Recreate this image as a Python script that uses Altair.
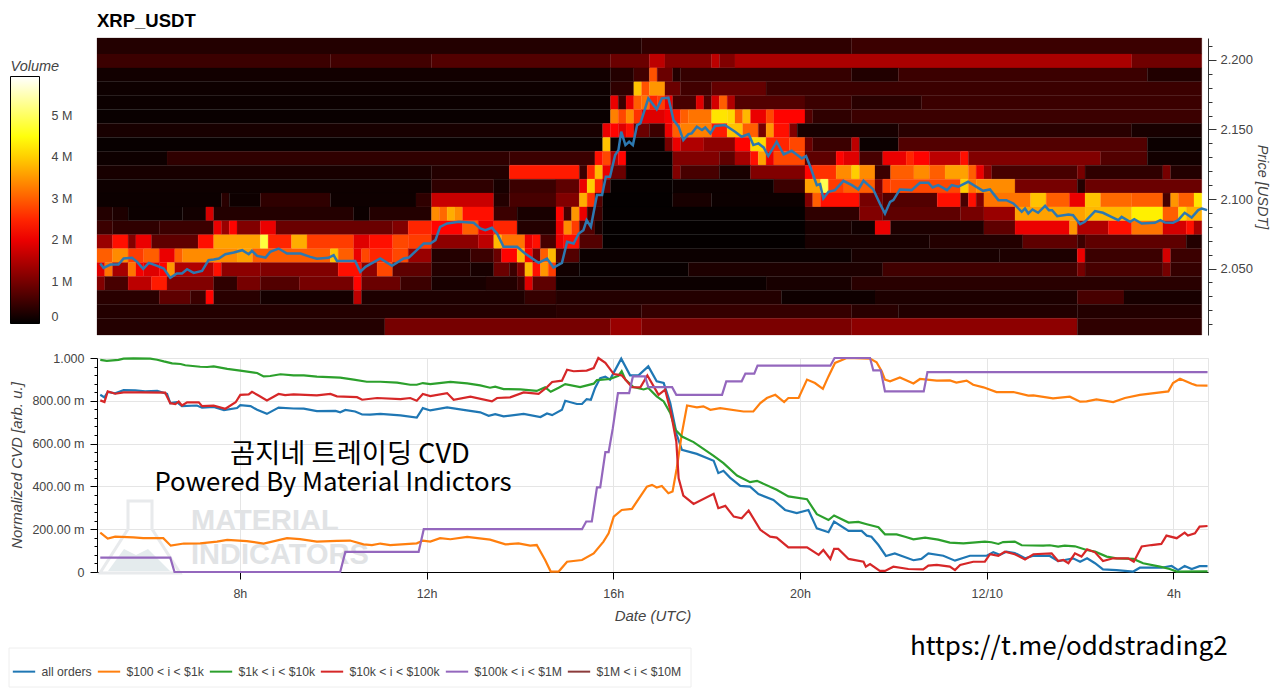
import altair as alt
import pandas as pd

FONT = 'Liberation Sans'
KO_FONT = 'Noto Sans CJK KR'
TXT = '#444444'

# heatmap: one list per price row, top to bottom, (start column, volume in M) runs
# columns are 10 min wide
first_hour = 4.94
price_edges = [2.2158, 2.2043, 2.1943, 2.1843, 2.1743, 2.1643, 2.1543, 2.1443, 2.1343, 2.1243, 2.1143,
               2.1043, 2.0943, 2.0843, 2.0743, 2.0643, 2.0543, 2.0443, 2.0343, 2.0243, 2.0143, 2.0022]
n_cols = 142
row_00 = [(0,.3),(70,.4),(97,.5)]
row_01 = [(0,.5),(30,.55),(43,.7),(66,.9),(71,1.6),(73,1.1),(79,1.6),(80,1.1),(82,1.45),(133,.95)]
row_02 = [(0,.15),(66,.3),(69,.55),(71,2.9),(72,.9),(74,.3),(75,.45),(97,.28),(103,.5),(135,.28)]
row_03 = [(0,.12),(66,.4),(69,3.9),(70,2.9),(71,3.5),(73,.9),(75,.55),(79,.85),(86,.5)]
row_04 = [(0,.1),(66,2),(67,.5),(68,2),(69,3),(70,3.2),(71,2.5),(72,2.7),(73,2),(74,.6),(77,1.9),(78,.7),(79,1.8),(80,3),(81,1.5),(82,.7),(91,.5),(97,.35),(106,.5)]
row_05 = [(0,.08),(66,3.3),(67,2.8),(68,3.4),(69,2.6),(70,1.9),(73,2.1),(74,2.4),(75,3),(76,3.2),(79,4.2),(81,4.1),(82,3),(83,3.8),(84,2),(86,2.8),(87,2.2),(91,.7),(92,.4),(97,.5)]
row_06 = [(0,.2),(65,2),(66,2.2),(67,1.9),(68,2.3),(69,.9),(71,.5),(73,2),(74,3),(75,3.3),(79,2.4),(81,3.9),(83,3),(85,1),(86,3.5),(87,2.3),(89,1.1),(90,.2),(103,.35),(133,.2)]
row_07 = [(0,.07),(65,3.9),(66,.08),(73,1),(74,2),(75,1.5),(78,1.2),(82,2.2),(84,4.1),(86,2.5),(89,2.8),(91,.9),(92,.5),(97,1.6),(98,.1),(103,.7),(135,.1)]
row_08 = [(0,.12),(9,.4),(53,.5),(64,2.3),(65,2.8),(66,1.5),(67,2.2),(68,.07),(74,1.1),(80,.8),(82,1.4),(84,2.3),(85,3.6),(86,2),(87,2.8),(91,.8),(95,2.2),(96,1.9),(98,.6),(101,2),(104,2.5),(105,2.2),(107,1.6),(111,2.3),(112,1.1),(129,.7),(135,.15)]
row_09 = [(0,.2),(43,.3),(53,2.4),(62,.5),(63,2.5),(64,3.8),(65,2),(66,.9),(68,.05),(74,1.1),(75,.6),(80,.2),(84,1.1),(91,2.2),(92,2.6),(95,3.4),(97,4),(98,3.4),(100,.5),(102,3),(105,3.4),(107,3),(109,3.6),(112,3),(113,2),(114,1.2),(115,.6),(126,1),(127,.4),(137,1),(138,.3)]
row_10 = [(0,.12),(43,.4),(51,.2),(53,.5),(59,.8),(62,2),(63,4),(64,2.5),(65,.8),(66,.05),(74,.1),(87,.5),(91,3.6),(93,4.9),(94,2.7),(96,3),(100,1),(101,2.7),(102,2.8),(111,4),(112,3.2),(113,3.4),(118,1),(126,.3),(127,.9)]
row_11 = [(0,.1),(16,.35),(17,.12),(21,.4),(30,.12),(41,.4),(43,1.7),(51,.3),(53,.6),(59,1.1),(62,3.7),(63,2.6),(64,.7),(65,.03),(74,.2),(79,.1),(91,1.1),(92,3),(93,2.3),(98,1),(101,.7),(108,2.3),(111,.6),(112,2.3),(113,1.1),(114,3.2),(120,3.9),(122,3),(125,2),(127,3.9),(129,3.1),(133,3),(137,.6),(138,3.5),(139,3),(141,4.2)]
row_12 = [(0,.3),(2,.25),(4,.1),(11,.15),(14,1.8),(15,.3),(33,.1),(35,.3),(43,3.4),(44,3.1),(45,3.7),(46,3.4),(47,2.3),(51,.5),(54,.2),(59,2.2),(60,.6),(61,3.5),(62,2),(63,.5),(65,.04),(91,.4),(98,1.1),(101,.8),(111,1),(114,1.3),(118,3.6),(127,3.8),(133,4.3),(137,3),(139,4.1),(140,3.7)]
row_13 = [(0,.5),(2,.4),(8,.5),(15,2),(16,1.3),(17,2.2),(18,1.1),(21,2),(23,.9),(38,1.1),(40,2.5),(43,2.2),(47,3),(49,2),(51,2.5),(54,.3),(59,2),(60,3.4),(61,2.7),(62,.7),(64,.2),(65,.03),(91,.2),(97,.15),(100,2),(102,.25),(114,.8),(118,2),(125,3.5),(126,1.5),(130,2.3),(133,3.2),(137,1.8),(140,2.3),(141,1.4)]
row_14 = [(0,1.3),(2,2.3),(4,1.1),(5,2),(7,.8),(13,2.3),(15,3.6),(21,4.8),(22,2.5),(25,3.7),(27,2.7),(33,1.9),(35,2.3),(38,2.8),(40,2.7),(43,1.2),(49,1.6),(51,3.8),(52,3.2),(55,2),(56,2.3),(57,.6),(59,2),(60,2.3),(62,.7),(65,.03),(91,.2),(107,.3),(119,.8),(126,.5),(127,.8),(140,.3)]
row_15 = [(0,3),(2,3.4),(4,2.7),(6,3),(8,2),(10,3),(11,3.4),(18,3.6),(20,3),(30,3.9),(31,3),(33,2),(34,2.8),(35,2.5),(38,2.8),(40,1.3),(43,.3),(48,.5),(51,.9),(52,2.2),(54,3.8),(55,2.2),(56,1),(57,3),(58,3.8),(59,.7),(62,.1),(97,.2),(116,.25),(126,2),(127,.5),(137,1.8),(138,.5)]
row_16 = [(0,1.9),(1,3.2),(2,1.4),(4,3.2),(5,2.1),(6,1.9),(8,2.2),(9,3.5),(10,1.5),(15,2.3),(16,1.2),(21,1.1),(31,2.3),(34,1.2),(36,2.8),(38,.8),(43,.3),(48,.2),(51,.9),(53,.5),(54,1.1),(55,3.8),(56,2.3),(57,3.5),(58,2.7),(59,.15),(62,.08),(76,.25),(101,.55),(126,1),(127,.6),(137,1),(138,.45)]
row_17 = [(0,1.1),(1,.6),(4,1.6),(7,2.4),(9,1.1),(15,.4),(18,1),(21,.7),(26,1),(33,2.2),(34,.9),(39,.5),(43,.2),(50,.3),(54,.5),(55,1.9),(56,.8),(59,.1),(86,.2),(97,.35)]
row_18 = [(0,.35),(8,.8),(12,.5),(14,2.2),(15,.35),(21,.18),(33,1.6),(34,.25),(55,.45),(59,.3),(88,.12),(100,.25),(126,.6),(132,.2)]
row_19 = [(0,.3),(59,.35),(70,.45),(97,.35),(103,.28),(126,.3)]
row_20 = [(0,.3),(37,1),(66,1.3),(70,1.05),(97,1.2),(126,.4)]
volume_rows = [row_00, row_01, row_02, row_03, row_04, row_05, row_06, row_07, row_08, row_09, row_10,
               row_11, row_12, row_13, row_14, row_15, row_16, row_17, row_18, row_19, row_20]

# price line (hour, USDT)
price = [(5.01,2.0536),(5.08,2.0505),(5.23,2.0529),(5.40,2.0529),(5.51,2.0572),(5.69,2.0577),(5.80,2.0548),(5.93,2.0498),(6.05,2.0541),(6.23,2.0519),(6.37,2.0500),(6.51,2.0433),(6.65,2.0464),(6.76,2.0464),(6.87,2.0495),(7.01,2.0469),(7.19,2.0483),(7.33,2.0560),(7.44,2.0565),(7.55,2.0572),(7.69,2.0603),(7.87,2.0615),(8.05,2.0632),(8.19,2.0603),(8.26,2.0627),(8.37,2.0591),(8.55,2.0579),(8.65,2.0620),(8.83,2.0644),(9.01,2.0608),(9.30,2.0608),(9.51,2.0584),(9.65,2.0570),(9.90,2.0577),(10.01,2.0596),(10.08,2.0555),(10.47,2.0555),(10.58,2.0476),(10.69,2.0512),(11.01,2.0572),(11.26,2.0519),(11.51,2.0572),(11.62,2.0579),(11.79,2.0632),(11.94,2.0680),(12.08,2.0680),
         (12.19,2.0704),(12.29,2.080),(12.44,2.0824),(12.69,2.0836),(13.01,2.0829),(13.15,2.0788),(13.26,2.0776),(13.40,2.0793),(13.51,2.0752),(13.65,2.0656),(13.94,2.0656),(14.11,2.0608),(14.40,2.0541),(14.58,2.0572),(14.72,2.0507),(14.90,2.0541),(15.01,2.0692),(15.15,2.068),(15.26,2.0752),(15.36,2.0776),(15.43,2.0848),(15.52,2.08),(15.65,2.1028),(15.76,2.1028),(15.84,2.116),(15.93,2.116),(16.04,2.1316),(16.11,2.1352),(16.17,2.1484),(16.26,2.1388),(16.34,2.1412),(16.42,2.1388),(16.51,2.1532),(16.58,2.1544),(16.75,2.1724),(16.93,2.1645),(17.04,2.1724),(17.18,2.1729),(17.29,2.1568),(17.40,2.152),(17.50,2.1424),(17.61,2.1467),(17.68,2.1472),(17.79,2.152),(17.90,2.1496),(17.97,2.1515),(18.08,2.1472),(18.18,2.1525),(18.39,2.1532),(18.61,2.1484),(18.75,2.1448),(18.90,2.1467),(19.00,2.1388),(19.11,2.14),(19.22,2.1371),(19.32,2.1309),(19.50,2.1412),(19.65,2.1321),(19.82,2.1347),(20.04,2.1292),(20.13,2.1309),(20.22,2.1232),(20.36,2.11),(20.43,2.1107),(20.50,2.1004),(20.61,2.1052),(20.75,2.1064),(20.93,2.1131),(21.11,2.11),
         (21.25,2.1069),(21.36,2.1131),(21.57,2.1069),(21.71,2.0968),(21.82,2.0896),(21.93,2.098),(22.0,2.0992),(22.14,2.1069),(22.39,2.1064),(22.57,2.1117),(22.75,2.1117),(22.84,2.1083),(22.96,2.11),(23.15,2.1064),(23.25,2.11),(23.39,2.1088),(23.60,2.1124),(23.92,2.1059),(24.07,2.1069),(24.25,2.0992),(24.42,2.0992),(24.57,2.0968),(24.75,2.0908),(24.82,2.0932),(24.89,2.0896),(24.98,2.0925),(25.10,2.0901),(25.25,2.0951),(25.33,2.092),(25.40,2.092),(25.51,2.0877),(25.75,2.0889),(25.85,2.0884),(26.0,2.0819),(26.10,2.0836),(26.32,2.0913),(26.49,2.0901),(26.67,2.0872),(26.82,2.0848),(26.89,2.0872),(27.07,2.0836),(27.16,2.0855),(27.32,2.0824),(27.60,2.0829),(27.72,2.0848),(27.82,2.0831),(27.99,2.0829),(28.10,2.0848),(28.24,2.0901),(28.39,2.0867),(28.53,2.092),(28.61,2.0932),(28.72,2.092)]

# normalized CVD lines (hour, value)
all_orders = [(5.01,.828),(5.10,.816),(5.17,.841),(5.33,.835),(5.51,.850),(5.76,.849),(5.97,.844),(6.23,.847),(6.44,.832),(6.51,.789),(6.65,.794),(6.76,.775),(7.08,.778),(7.19,.768),(7.44,.771),(7.66,.757),(7.94,.766),(8.01,.780),(8.23,.775),(8.37,.758),(8.58,.739),(8.83,.768),(9.15,.764),(9.37,.763),(9.65,.752),(10.05,.753),(10.15,.746),(10.26,.757),(10.47,.750),(10.62,.736),(10.79,.735),(11.01,.739),(11.44,.732),(11.79,.722),(11.92,.766),(12.08,.755),
              (12.44,.769),(12.79,.758),(13.15,.746),(13.33,.730),(13.47,.738),(13.65,.727),(14.08,.739),(14.44,.724),(14.58,.741),(14.69,.733),(14.90,.758),(14.97,.800),(15.22,.785),(15.33,.785),(15.43,.808),(15.52,.805),(15.61,.860),(15.72,.906),(15.83,.913),(15.93,.899),(16.17,.997),(16.36,.919),(16.54,.919),(16.75,.961),(16.93,.891),(17.08,.883),(17.22,.789),(17.36,.641),(17.47,.571),(17.79,.552),(18.15,.520),(18.25,.462),(18.36,.473),(18.50,.441),(18.72,.402),(18.93,.399),(19.11,.364),(19.43,.337),(19.68,.290),(19.93,.275),(20.18,.290),(20.36,.204),(20.61,.186),(20.73,.236),(21.04,.192),
              (21.32,.192),(21.43,.170),(21.53,.165),(21.68,.126),(21.84,.075),(22.03,.087),(22.43,.055),(22.60,.061),(22.75,.087),(23.07,.076),(23.32,.053),(23.64,.076),(24.0,.076),(24.14,.092),(24.28,.080),(24.42,.095),(24.60,.089),(24.82,.064),(25.0,.076),(25.35,.075),(25.53,.051),(25.67,.056),(25.85,.064),(26.0,.048),(26.15,.064),(26.32,.041),(26.49,.012),(26.78,.009),(27.14,.002),(27.28,.020),(27.74,.020),(27.96,.028),(28.10,.009),(28.24,.028),(28.39,.014),(28.56,.027),(28.73,.027)]
orders_100_1k = [(5.01,.184),(5.17,.156),(5.33,.165),(5.72,.162),(5.93,.158),(6.36,.158),(6.52,.123),(6.80,.133),(7.15,.134),(7.51,.142),(7.73,.150),(8.15,.144),(8.51,.133),(9.01,.158),(9.29,.154),(9.65,.142),(10.08,.145),(10.36,.147),(10.65,.129),(10.83,.126),(11.01,.133),(11.22,.126),(11.79,.134),(11.92,.147),(12.08,.142),
                 (12.29,.158),(12.51,.153),(12.87,.164),(13.36,.151),(13.69,.129),(13.97,.134),(14.22,.123),(14.36,.126),(14.54,.056),(14.66,.002),(14.83,.002),(15.01,.048),(15.33,.056),(15.58,.087),(15.79,.142),(15.90,.181),(16.01,.259),(16.18,.290),(16.40,.295),(16.72,.399),(16.83,.407),(16.93,.395),(17.04,.402),(17.18,.368),(17.27,.376),(17.36,.485),(17.47,.649),(17.58,.778),(17.79,.769),(17.93,.774),(18.08,.758),(18.29,.766),(18.79,.750),(19.0,.750),(19.15,.789),(19.29,.813),(19.47,.828),(19.66,.794),(19.75,.813),(19.97,.813),(20.15,.899),(20.32,.883),(20.49,.856),(20.61,.914),(20.75,.977),(21.0,1.0),
                 (21.50,.997),(21.64,.980),(21.75,.938),(21.82,.899),(21.93,.891),(22.14,.909),(22.43,.881),(22.57,.902),(22.93,.894),(23.21,.895),(23.35,.885),(23.57,.894),(23.71,.875),(23.93,.863),(24.21,.841),(24.57,.841),(24.89,.824),(25.0,.825),(25.42,.811),(25.78,.819),(26.0,.796),(26.14,.797),(26.35,.807),(26.71,.794),(26.96,.813),(27.28,.828),(27.89,.844),(27.99,.883),(28.14,.903),(28.39,.880),(28.49,.872),(28.73,.871)]
orders_1k_10k = [(5.01,.991),(5.15,.987),(5.40,.991),(5.51,.997),(5.72,.998),(6.08,.997),(6.23,.992),(6.37,.984),(6.55,.975),(6.73,.972),(6.83,.966),(7.15,.959),(7.30,.958),(7.44,.961),(7.73,.949),(8.01,.941),(8.37,.930),(8.51,.914),(8.65,.916),(8.87,.924),(9.15,.919),(9.37,.919),(9.65,.913),(10.15,.908),(10.44,.899),(10.72,.889),(11.01,.889),(11.37,.885),(11.65,.875),(11.79,.875),(11.92,.883),(12.08,.878),
                 (12.51,.888),(12.87,.881),(13.15,.872),(13.36,.861),(13.47,.866),(13.65,.855),(14.01,.853),(14.36,.846),(14.54,.863),(14.66,.842),(14.83,.861),(14.97,.878),(15.29,.864),(15.58,.880),(15.65,.897),(15.93,.902),(16.11,.917),(16.18,.938),(16.26,.899),(16.43,.864),(16.65,.853),(16.75,.860),(16.93,.821),(17.08,.797),(17.22,.743),(17.33,.665),(17.47,.633),(17.72,.607),(18.15,.543),(18.36,.509),(18.65,.451),(18.93,.420),(19.08,.426),(19.50,.384),(19.75,.353),(20.15,.340),(20.36,.270),(20.61,.243),(20.73,.264),(21.04,.231),
                 (21.25,.234),(21.43,.223),(21.68,.209),(21.82,.176),(22.07,.176),(22.25,.165),(22.43,.153),(22.68,.161),(22.96,.151),(23.21,.137),(23.50,.134),(23.96,.142),(24.10,.139),(24.25,.131),(24.35,.140),(24.60,.142),(24.75,.125),(25.21,.123),(25.35,.125),(25.53,.119),(25.67,.123),(25.89,.120),(26.14,.103),(26.32,.095),(26.57,.072),(26.78,.064),(27.14,.061),(27.35,.041),(27.71,.025),(27.92,.014),(28.07,.002),(28.73,.003)]
orders_10k_100k = [(5.01,.802),(5.10,.794),(5.17,.844),(5.33,.833),(5.51,.839),(5.87,.839),(6.40,.838),(6.51,.789),(6.62,.785),(6.69,.797),(6.76,.778),(6.87,.793),(7.12,.793),(7.19,.775),(7.44,.777),(7.69,.763),(7.91,.793),(8.01,.828),(8.19,.830),(8.26,.842),(8.40,.825),(8.58,.802),(8.83,.832),(8.97,.827),(9.15,.830),(9.65,.825),(9.94,.832),(10.08,.821),(10.51,.817),(10.62,.805),(10.94,.813),(11.44,.808),(11.65,.813),(11.79,.800),(11.92,.832),(12.08,.822),
                   (12.44,.836),(12.58,.805),(12.94,.819),(13.40,.797),(13.51,.813),(13.79,.816),(14.08,.839),(14.40,.832),(14.58,.864),(14.69,.888),(14.90,.894),(15.01,.945),(15.15,.938),(15.43,.941),(15.58,.953),(15.68,1.0),(15.83,.977),(16.01,.925),(16.18,.919),(16.40,.864),(16.58,.863),(16.73,.919),(16.97,.828),(17.11,.852),(17.23,.750),(17.35,.610),(17.40,.438),(17.50,.357),(17.72,.318),(18.15,.365),(18.25,.298),(18.40,.309),(18.58,.259),(18.75,.251),(18.90,.287),(19.15,.197),(19.36,.165),(19.50,.161),(19.75,.115),(20.15,.115),(20.40,.080),(20.50,.103),(20.65,.061),(20.73,.108),(20.82,.108),(21.04,.061),
                   (21.36,.048),(21.41,.025),(21.50,.037),(21.71,.005),(21.82,.005),(22.0,.025),(22.32,.014),(22.64,.012),(22.75,.030),(22.93,.033),(23.21,.025),(23.32,.009),(23.43,.033),(23.71,.048),(23.96,.048),(24.07,.083),(24.25,.076),(24.39,.095),(24.60,.083),(24.82,.059),(25.0,.083),(25.39,.087),(25.53,.051),(25.64,.056),(25.75,.041),(25.89,.087),(26.03,.072),(26.15,.106),(26.32,.092),(26.49,.051),(26.71,.064),(27.03,.064),(27.15,.048),(27.32,.119),(27.53,.126),(27.74,.131),(27.85,.170),(28.07,.158),(28.24,.184),(28.31,.170),(28.46,.181),(28.56,.212),(28.73,.215)]
orders_100k_1m = [(5.01,.067),(6.51,.067),(6.60,0),(10.15,0),(10.26,.094),(11.83,.094),(11.94,.2),(15.33,.2),(15.42,.236),(15.54,.236),(15.65,.395),(15.72,.395),(15.83,.560),(15.90,.560),(15.99,.672),(16.10,.836),(16.34,.836),(16.42,.914),(16.68,.914),(16.75,.864),(17.26,.864),(17.35,.828),(18.33,.828),(18.42,.891),(18.75,.891),(18.83,.927),(19.02,.927),(19.09,.964),(20.65,.964),(20.74,1.0),(21.50,1.0),(21.57,.942),(21.73,.942),(21.82,.844),(22.65,.844),(22.73,.934),(28.73,.934)]

series_names = ['all orders', '$100 < i < $1k', '$1k < i < $10k', '$10k < i < $100k', '$100k < i < $1M', '$1M < i < $10M']
series_colors = ['#1f77b4', '#ff7f0e', '#2ca02c', '#d62728', '#9467bd', '#8c3b3b']
series_data = [all_orders, orders_100_1k, orders_1k_10k, orders_10k_100k, orders_100k_1m]

time_ticks = [8, 12, 16, 20, 24, 28]
cvd_ticks = [0, .04, .08, .12, .16, .2, .24, .28, .32, .36, .4, .44, .48, .52, .56, .6, .64, .68, .72, .76, .8, .84, .88, .92, .96, 1]
price_ticks = [2.01, 2.02, 2.03, 2.04, 2.05, 2.06, 2.07, 2.08, 2.09, 2.10, 2.11, 2.12, 2.13, 2.14, 2.15, 2.16, 2.17, 2.18, 2.19, 2.20, 2.21]
volume_ticks = [0, 1, 2, 3, 4, 5]

heat = []
for i, row in enumerate(volume_rows):
    for j, (start, volume) in enumerate(row):
        end = row[j + 1][0] if j + 1 < len(row) else n_cols
        heat.append({'t0': first_hour + start / 6, 't1': first_hour + end / 6,
                     'p0': price_edges[i], 'p1': price_edges[i + 1], 'volume': volume})
heat = pd.DataFrame(heat)
price_df = pd.DataFrame(price, columns=['hour', 'price'])
cvd = []
for name, points in zip(series_names, series_data):
    for i, (h, v) in enumerate(points):
        cvd.append({'hour': h, 'cvd': v, 'series': name, 'order': i})
cvd = pd.DataFrame(cvd)

time_scale = alt.Scale(domain=[4.94, 28.74], nice=False, zero=False)
price_scale = alt.Scale(domain=[2.0022, 2.2158], nice=False, zero=False)
heat_scale = alt.Scale(domain=[0, 2.17, 4.43, 5.94], range=['#000000', '#ff0000', '#ffff00', '#ffffff'], interpolate='rgb')

heat_layer = alt.Chart(heat).mark_rect(strokeWidth=.25).encode(
    x=alt.X('t0:Q', scale=time_scale, axis=None),
    x2='t1:Q',
    y=alt.Y('p0:Q', scale=price_scale, axis=alt.Axis(
        orient='right', title='Price [USDT]', values=price_ticks, tickCount=100, grid=False,
        labelExpr="round(datum.value*1000)%50==0 ? format(datum.value,'.3f') : ''",
        tickSize={'condition': {'test': 'round(datum.value*1000)%50==0', 'value': 8}, 'value': 4},
        titleFontStyle='italic', titleFontWeight='normal', titleFont=FONT, titleFontSize=14.5, titleColor=TXT,
        titleAngle=90, titlePadding=2, labelFont=FONT, labelFontSize=13, labelColor=TXT, labelPadding=4,
        domainColor='#333333', tickColor='#333333', labelOverlap=False)),
    y2='p1:Q',
    color=alt.Color('volume:Q', scale=heat_scale, legend=alt.Legend(
        title='Volume', orient='none', legendX=-86.5, legendY=22, gradientLength=247, gradientThickness=29,
        values=volume_ticks, labelExpr="datum.value==0 ? '0' : datum.value+' M'", labelOffset=12,
        gradientStrokeColor='#000000', gradientStrokeWidth=1, titleFontStyle='italic', titleFontWeight='normal',
        titleFont=FONT, titleFontSize=14.5, titleColor=TXT, labelFont=FONT, labelFontSize=12.5, labelColor=TXT,
        labelBaseline='middle', titlePadding=2, padding=0)),
    stroke=alt.Stroke('volume:Q', scale=heat_scale, legend=None),
)
price_line = alt.Chart(price_df).mark_line(color='#2d78b0', strokeWidth=2.5).encode(
    x=alt.X('hour:Q', scale=time_scale, axis=None),
    y=alt.Y('price:Q', scale=price_scale),
)
top = alt.layer(heat_layer, price_line).properties(
    width=1111, height=297, view=alt.ViewBackground(stroke=None),
    title=alt.TitleParams('XRP_USDT', anchor='start', frame='group', font=FONT, fontSize=18.5, fontWeight='bold',
                          color='#000000', offset=7))

# legend frame and watermark behind the lines
frame = alt.Chart(pd.DataFrame({'a': [0]})).mark_rect(fill='#ffffff', stroke='#eeeeee').encode(
    x=alt.value(-88), x2=alt.value(594), y=alt.value(290), y2=alt.value(329))
flask = alt.Chart(pd.DataFrame({'a': [0]})).mark_point(
    shape='M-.3,-.9 L.3,-.9 L.3,-.2 L1,.9 L-1,.9 L-.3,-.2 Z', size=6400, stroke='#e8eaec', strokeWidth=3, opacity=1,
    filled=False).encode(x=alt.value(43), y=alt.value(179))
flask_fill = alt.Chart(pd.DataFrame({'a': [0]})).mark_point(
    shape='M-.8,.85 L-.4,.3 L-.1,.45 L.2,.3 L.75,.85 Z', size=6400, fill='#e4ebed', strokeWidth=0, opacity=1,
    filled=True).encode(x=alt.value(43), y=alt.value(179))
wm_font = dict(font=FONT, fontWeight='bold', fontSize=29, color='#e1e3e5', align='left', baseline='alphabetic')
wm1 = alt.Chart(pd.DataFrame({'t': ['MATERIAL']})).mark_text(**wm_font).encode(text='t:N', x=alt.value(94), y=alt.value(172))
wm2 = alt.Chart(pd.DataFrame({'t': ['INDICATORS']})).mark_text(**wm_font).encode(text='t:N', x=alt.value(94), y=alt.value(206))

lines = alt.Chart(cvd).mark_line(strokeWidth=2.2).encode(
    x=alt.X('hour:Q', scale=time_scale, axis=alt.Axis(
        title='Date (UTC)', values=time_ticks,
        labelExpr="datum.value==24 ? '12/10' : (datum.value>24 ? datum.value-24 : datum.value)+'h'",
        grid=True, gridColor='#e5e5e5', domainColor='#000000', tickColor='#000000', tickSize=7,
        titleFontStyle='italic', titleFontWeight='normal', titleFont=FONT, titleFontSize=15, titleColor=TXT,
        titlePadding=9, labelFont=FONT, labelFontSize=12.5, labelColor=TXT, labelPadding=8)),
    y=alt.Y('cvd:Q', scale=alt.Scale(domain=[0, 1], nice=False), axis=alt.Axis(
        title='Normalized CVD [arb. u.]', values=cvd_ticks, tickCount=100,
        labelExpr="datum.value==1 ? '1.000' : (datum.value==0 ? '0' : (round(datum.value*100)%20==0 ? format(datum.value*1000,'.2f')+' m' : ''))",
        grid=True, gridColor='#e5e5e5',
        gridOpacity={'condition': {'test': 'round(datum.value*100)%20==0', 'value': 1}, 'value': 0},
        tickSize={'condition': {'test': 'round(datum.value*100)%20==0', 'value': 7}, 'value': 3},
        domainColor='#000000', tickColor='#000000', labelOverlap=False,
        titleFontStyle='italic', titleFontWeight='normal', titleFont=FONT, titleFontSize=15, titleColor=TXT,
        titlePadding=7, labelFont=FONT, labelFontSize=12.5, labelColor=TXT, labelPadding=6)),
    color=alt.Color('series:N', scale=alt.Scale(domain=series_names, range=series_colors), sort=series_names, legend=alt.Legend(
        title=None, orient='none', legendX=-88.5, legendY=298, direction='horizontal', columns=6, symbolType='stroke',
        symbolSize=500, symbolStrokeWidth=2, labelFont=FONT, labelFontSize=12.2, labelColor=TXT, columnPadding=1,
        padding=3, labelOffset=5)),
    order='order:Q',
    detail='series:N',
)

note1 = alt.Chart(pd.DataFrame({'t': ['곰지네 트레이딩 CVD']})).mark_text(
    font=KO_FONT, fontSize=27.3, color='#000000', align='center').encode(text='t:N', x=alt.value(253), y=alt.value(97))
note2 = alt.Chart(pd.DataFrame({'t': ['Powered By Material Indictors']})).mark_text(
    font=KO_FONT, fontSize=25.8, color='#000000', align='center').encode(text='t:N', x=alt.value(236), y=alt.value(125))
link = alt.Chart(pd.DataFrame({'t': ['https://t.me/oddstrading2']})).mark_text(
    font=KO_FONT, fontSize=26, color='#000000', align='left').encode(text='t:N', x=alt.value(813), y=alt.value(289))

bottom = alt.layer(frame, flask_fill, flask, wm1, wm2, lines, note1, note2, link).properties(
    width=1111, height=214, view=alt.ViewBackground(stroke='#e5e5e5'))

chart = alt.vconcat(top, bottom, spacing=15).resolve_scale(color='independent').properties(
    padding={'left': 0, 'right': 0, 'top': 4, 'bottom': 0}, background='#ffffff')
chart.save("out.html", embed_options={"renderer": "svg", "actions": False})
